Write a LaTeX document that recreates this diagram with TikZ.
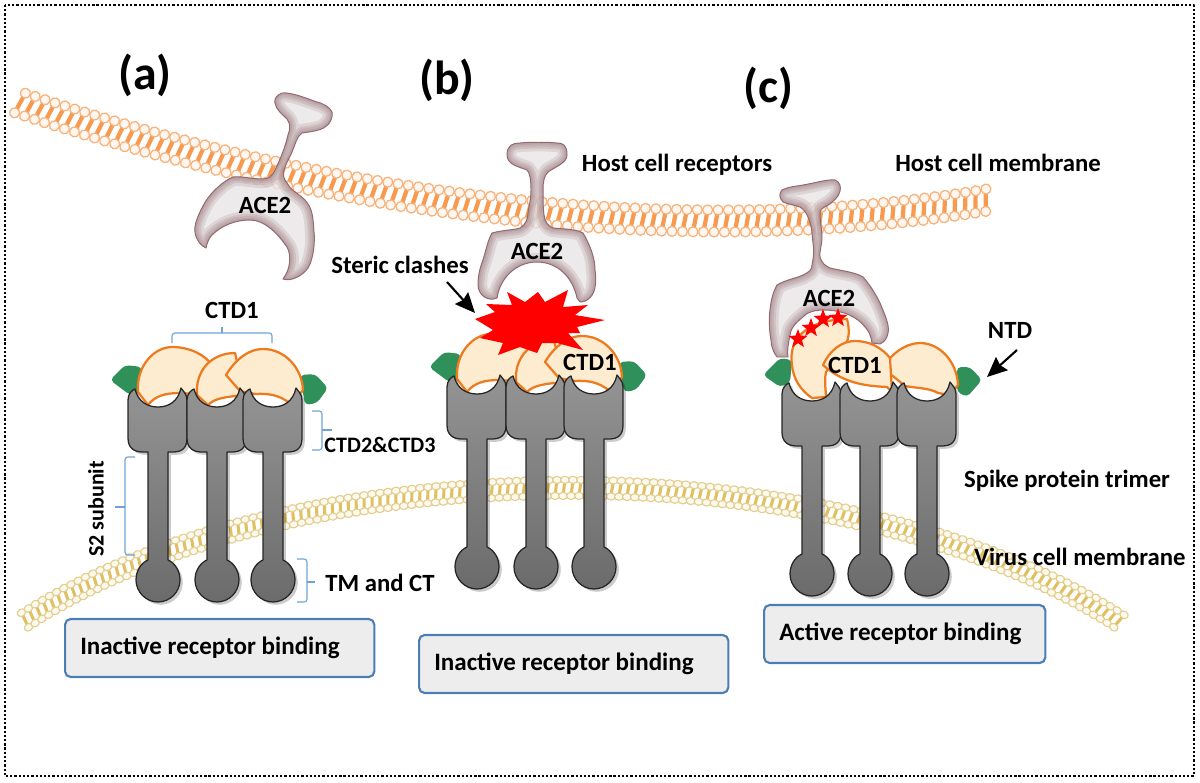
\documentclass[tikz,border=0pt]{standalone}
\usepackage{fontspec}
\setmainfont{Carlito}
\usetikzlibrary{arrows.meta, positioning, shapes.geometric, shadows, decorations.markings}
\definecolor{lipidorange}{HTML}{F79A50}
\definecolor{lipidring}{HTML}{F7B27A}
\definecolor{lipidgold}{HTML}{E0C060}
\definecolor{goldring}{HTML}{E3CE8E}
\definecolor{capfill}{HTML}{FDECCF}
\definecolor{capline}{HTML}{EE7A1E}
\definecolor{ntdgreen}{HTML}{2F9159}
\definecolor{bracketblue}{HTML}{6FA3D6}
\definecolor{boxblue}{HTML}{4A7EB5}
\definecolor{acebody}{HTML}{E8E5E6}
\definecolor{aceedge}{HTML}{85585F}

% receptor drawn from one of the acepath styles: body, soft inner rim, outline
\newcommand{\acereceptor}[1]{
  \fill[acebody, fill opacity=0.8, #1];
  \begin{scope}
    \clip[#1];
    \foreach \w in {13,9,6,3}
      \draw[aceedge, draw opacity=0.15, line width=\w pt, #1];
  \end{scope}
  \draw[aceedge!90, line width=0.7pt, #1];
}

\begin{document}
\begin{tikzpicture}[x=0.025cm, y=-0.025cm, line join=round,
  tag/.style={font=\fontsize{17.6}{20}\selectfont\bfseries, inner sep=0pt},
  smalltag/.style={font=\fontsize{15.7}{18}\selectfont\bfseries, inner sep=0pt},
  panel/.style={font=\fontsize{34}{38}\selectfont\bfseries, inner sep=0pt},
  statebox/.style={draw=boxblue, line width=1.5pt, fill=black!7, rounded corners=4pt, align=flush left,
                   font=\fontsize{17.8}{20}\selectfont\bfseries, inner xsep=0.38cm, inner ysep=0pt,
                   minimum height=1.45cm},
  bracket/.style={draw=bracketblue, line width=0.8pt, rounded corners=2pt},
  pointer/.style={-{Stealth[length=5mm, width=4.4mm, inset=0.6mm]}, line width=1.5pt},
  capshape/.style={fill=capfill, draw=capline, line width=1.6pt},
  ntd/.style={fill=ntdgreen, rounded corners=3pt},
  redstar/.style={star, star points=5, star point ratio=2.4, fill=red, inner sep=0pt, minimum size=0.5cm},
  orangelipids/.style={decoration={markings, mark=between positions 0 and 1 step 0.26cm with {
      \draw[lipidorange, line width=3pt] (2,-11) -- (-2,11);
      \draw[lipidring, fill=white!92!lipidorange, line width=0.9pt] (2,-11) circle [radius=5];
      \draw[lipidring, fill=white!92!lipidorange, line width=0.9pt] (-2,11) circle [radius=5];
    }}, postaction={decorate}},
  goldlipids/.style={decoration={markings, mark=between positions 0 and 1 step 0.2cm with {
      \draw[lipidgold, line width=2.2pt] (1,-7) -- (-1,7);
      \draw[goldring, fill=white!90!lipidgold, line width=0.8pt] (1,-8) circle [x radius=4.4, y radius=3.6];
      \draw[goldring, fill=white!90!lipidgold, line width=0.8pt] (-1,8) circle [x radius=4.4, y radius=3.6];
    }}, postaction={decorate}},
  acepathb/.style={insert path={(-46,-67) .. controls (-35,-70) and (-24,-70) .. (-18,-72)
      .. controls (-12,-75) and (-10,-82) .. (-10,-87) .. controls (-9,-95) and (-7,-100) .. (-7,-110)
      .. controls (-7,-120) and (-8,-127) .. (-11,-130) .. controls (-18,-133) and (-31,-135) .. (-31,-145)
      .. controls (-31,-155) and (-25,-157) .. (-18,-157) .. controls (-8,-158) and (8,-158) .. (19,-157)
      .. controls (25,-157) and (29,-155) .. (29,-145) .. controls (29,-137) and (17,-133) .. (10,-128)
      .. controls (6,-124) and (5,-118) .. (5,-110) .. controls (5,-100) and (5,-92) .. (6,-85)
      .. controls (7,-78) and (10,-74) .. (15,-72) .. controls (25,-71) and (38,-71) .. (45,-67)
      .. controls (52,-55) and (57,-42) .. (57,-30) .. controls (58,-24) and (58,-18) .. (57,-13)
      .. controls (56,-5) and (50,2) .. (42,2) -- (39,-2) .. controls (35,-22) and (20,-38) .. (-1,-38)
      .. controls (-22,-38) and (-38,-22) .. (-41,-2) .. controls (-50,2) and (-60,-5) .. (-60,-15)
      .. controls (-60,-25) and (-58,-32) .. (-55,-40) .. controls (-52,-50) and (-50,-60) .. (-46,-67) -- cycle}},
  acepatha/.style={insert path={(282,93) .. controls (276,95) and (274,100) .. (275,103)
      .. controls (276,110) and (283,115) .. (287,119) .. controls (291,124) and (290,130) .. (288,135)
      .. controls (285,148) and (280,160) .. (275,170) .. controls (272,177) and (268,179) .. (262,179)
      .. controls (252,179) and (242,176) .. (233,177) .. controls (225,180) and (210,192) .. (203,206)
      .. controls (197,217) and (194,226) .. (195,232) .. controls (196,240) and (201,246) .. (206,248)
      .. controls (207,243) and (209,238) .. (212,235) .. controls (222,225) and (236,220) .. (250,220)
      .. controls (265,220) and (278,234) .. (287,247) .. controls (292,256) and (290,270) .. (283,279)
      .. controls (292,282) and (303,275) .. (308,268) .. controls (314,258) and (315,240) .. (314,232)
      .. controls (313,215) and (312,208) .. (305,200) .. controls (298,193) and (290,190) .. (287,183)
      .. controls (283,178) and (283,175) .. (284,170) .. controls (286,163) and (290,157) .. (292,152)
      .. controls (295,145) and (297,136) .. (302,133) .. controls (308,132) and (320,131) .. (325,127)
      .. controls (330,124) and (333,118) .. (332,112) .. controls (330,107) and (322,103) .. (317,102)
      .. controls (308,99) and (292,92) .. (282,93) -- cycle}},
  acepathc/.style={insert path={(782,190) .. controls (790,186) and (800,186) .. (803,185)
      .. controls (815,183) and (828,179) .. (835,180) .. controls (840,182) and (841,187) .. (840,191)
      .. controls (839,197) and (833,201) .. (830,204) .. controls (825,207) and (821,208) .. (820,212)
      .. controls (820,222) and (822,230) .. (822,237) .. controls (822,245) and (819,252) .. (820,257)
      .. controls (822,264) and (826,266) .. (830,268) .. controls (842,271) and (855,272) .. (863,277)
      .. controls (870,285) and (875,293) .. (880,303) .. controls (884,313) and (890,325) .. (888,333)
      .. controls (887,339) and (884,342) .. (880,344) -- (872,343) .. controls (871,335) and (868,330) .. (865,327)
      .. controls (858,318) and (845,310) .. (823,310) .. controls (812,310) and (805,314) .. (803,317)
      .. controls (795,323) and (790,330) .. (790,335) .. controls (788,345) and (787,352) .. (788,357)
      -- (777,357) .. controls (773,352) and (771,345) .. (771,340) .. controls (769,330) and (769,318) .. (770,310)
      .. controls (771,300) and (773,292) .. (777,285) .. controls (785,280) and (797,278) .. (803,275)
      .. controls (809,272) and (812,270) .. (812,265) .. controls (814,255) and (814,250) .. (813,243)
      .. controls (812,235) and (812,225) .. (808,217) .. controls (806,212) and (803,209) .. (800,207)
      .. controls (795,205) and (787,204) .. (783,202) .. controls (779,198) and (779,193) .. (782,190) -- cycle}},
  spikeunit/.pic={
    \path[top color=black!42, bottom color=black!58, draw=black!85, line width=0.9pt,
          drop shadow={shadow xshift=0.07cm, shadow yshift=-0.07cm, fill=black, opacity=0.2}]
      (-30,12) .. controls (-30,6) and (-26,2) .. (-23,1) .. controls (-20,14) and (-10,19) .. (0,19)
      .. controls (10,19) and (20,14) .. (23,0) .. controls (25,3) and (29,6) .. (29,12)
      -- (29,50) .. controls (29,60) and (24,64) .. (15,64) -- (10,64) -- (10,172)
      .. controls (17,175) and (22,183) .. (22,192) .. controls (22,204) and (12,214) .. (0,214)
      .. controls (-12,214) and (-22,204) .. (-22,192) .. controls (-22,183) and (-17,175) .. (-10,172)
      -- (-10,64) -- (-15,64) .. controls (-24,64) and (-30,60) .. (-30,50) -- cycle;
  },
  closedcaps/.pic={
    \fill[ntd] (-48,-8) -- (-33,-23) -- (-16,-21) -- (-21,7) -- (-28,7) -- cycle;
    \fill[ntd] (142,-13) -- (157,-14) -- (170,0) -- (159,15) -- (147,17) -- cycle;
    \path[capshape] (-20,4) .. controls (-22,-23) and (-3,-41) .. (14,-41) .. controls (32,-41) and (47,-33) .. (54,-23)
      -- (47,7) -- (22,5) .. controls (7,5) and (-3,8) .. (-10,17) -- cycle;
    \path[capshape] (39,7) .. controls (37,-18) and (54,-35) .. (77,-35) -- (87,7)
      .. controls (67,9) and (57,10) .. (50,17) -- cycle;
    \path[capshape] (68,-13) .. controls (74,-23) and (87,-39) .. (105,-39) .. controls (127,-39) and (144,-20) .. (145,2)
      -- (135,15) -- (130,14) .. controls (122,8) and (112,5) .. (97,6) -- (82,3) -- cycle;
  }]

  \useasboundingbox (0,0) rectangle (1200,782);
  \draw[line width=1.5pt, dash pattern=on 1.6pt off 1.4pt] (5,5) rectangle (1194,776);

  % membranes
  \path[orangelipids] (20,103) .. controls (340,210) and (700,250) .. (993,199);
  \path[goldlipids] (25,620) .. controls (300,443) and (850,443) .. (1125,625);

  % panel a
  \pic at (158,388) {closedcaps};
  \foreach \ux in {158,217,273} \pic at (\ux,388) {spikeunit};
  \acereceptor{acepatha}

  % panel b
  \pic at (477,375) {closedcaps};
  \foreach \ux in {477,536,594} \pic at (\ux,375) {spikeunit};
  \begin{scope}[shift={(538,300)}]
    \acereceptor{acepathb}
  \end{scope}
  \fill[red] (475,319) -- (495,312) -- (486,304) -- (512,305) -- (507,292) -- (525,302) -- (538,292)
    -- (545,302) -- (568,290) -- (563,307) -- (588,305) -- (575,315) -- (605,320) -- (577,327)
    -- (580,333) -- (568,333) -- (583,350) -- (557,343) -- (542,343) -- (537,353) -- (520,347)
    -- (498,355) -- (503,343) -- (480,338) -- (493,330) -- cycle;

  % panel c
  \fill[ntd] (763,375) -- (780,358) -- (792,360) -- (790,383) -- (780,387) -- cycle;
  \fill[ntd] (957,367) -- (970,367) -- (982,380) -- (967,397) -- (957,392) -- cycle;
  \path[capshape] (792,365) .. controls (788,340) and (805,320) .. (847,319) .. controls (850,330) and (849,340) .. (845,345)
    -- (826,372) .. controls (824,380) and (826,392) .. (826,397) -- (812,398) .. controls (800,390) and (793,378) .. (792,365) -- cycle;
  \path[capshape] (883,368) .. controls (890,355) and (905,343) .. (920,343) .. controls (940,343) and (957,362) .. (958,385)
    -- (950,395) -- (938,393) .. controls (930,388) and (915,388) .. (905,386) -- cycle;
  \path[capshape] (823,365) .. controls (830,350) and (842,341) .. (855,341) .. controls (870,341) and (882,348) .. (890,358)
    -- (892,392) -- (887,387) .. controls (870,386) and (845,385) .. (823,365) -- cycle;
  \foreach \ux in {812,870,927} \pic at (\ux,382) {spikeunit};
  \acereceptor{acepathc}
  \node[redstar] (star1) at (798,339) {};
  \node[redstar] (star2) at (811,328) {};
  \node[redstar] (star3) at (823,319) {};
  \node[redstar] (star4) at (838,318) {};

  % brackets
  \draw[bracket] (172,343) -- (172,333) -- (272,333) -- (272,343);
  \draw[bracket] (222,333) -- (222,327);
  \draw[bracket] (312,411) -- (322,411) -- (322,450) -- (312,450);
  \draw[bracket] (322,430) -- (332,430);
  \draw[bracket] (135,457) -- (125,457) -- (125,555) -- (135,555);
  \draw[bracket] (125,507) -- (115,507);
  \draw[bracket] (297,559) -- (307,559) -- (307,602) -- (297,602);
  \draw[bracket] (307,582) -- (315,582);

  % labels
  \node[panel] (pa) at (145,75) {(a)};
  \node[panel] (pb) at (447,80) {(b)};
  \node[panel] (pc) at (768,88) {(c)};
  \node[tag] (ctdtop) at (232,310) {CTD1};
  \node[smalltag] (ctdmid) at (380,445) {CTD2\&CTD3};
  \node[tag] (tmct) at (380,583) {TM and CT};
  \node[smalltag, rotate=90] (s2) at (96,509) {S2 subunit};
  \node[tag] (steric) at (400,265) {Steric clashes};
  \node[tag] (receptors) at (677,165) {Host cell receptors};
  \node[tag] (hostmem) at (998,163) {Host cell membrane};
  \node[tag] (ntdlabel) at (1010,330) {NTD};
  \node[tag] (trimer) at (1067,481) {Spike protein trimer};
  \node[tag] (virusmem) at (1080,557) {Virus cell membrane};
  \node[tag] (acea) at (265,205) {ACE2};
  \node[tag] (aceb) at (537,251) {ACE2};
  \node[tag] (acec) at (829,298) {ACE2};
  \node[tag] (ctdb) at (590,362) {CTD1};
  \node[tag] (ctdc) at (855,365) {CTD1};

  \coordinate (stericfrom) at (447,282);
  \coordinate (burstedge) at (475,313);
  \coordinate (ntdfrom) at (1017,350);
  \coordinate (ntdtip) at (987,377);
  \draw[pointer] (stericfrom) -- (burstedge);
  \draw[pointer] (ntdfrom) -- (ntdtip);

  \node[statebox, anchor=west, text width=6.97cm] (boxa) at (64,648) {Inactive receptor binding};
  \node[statebox, anchor=west, text width=6.97cm] (boxb) at (418,664) {Inactive receptor binding};
  \node[statebox, anchor=west, text width=6.27cm] (boxc) at (763,634) {Active receptor binding};
\end{tikzpicture}
\end{document}
